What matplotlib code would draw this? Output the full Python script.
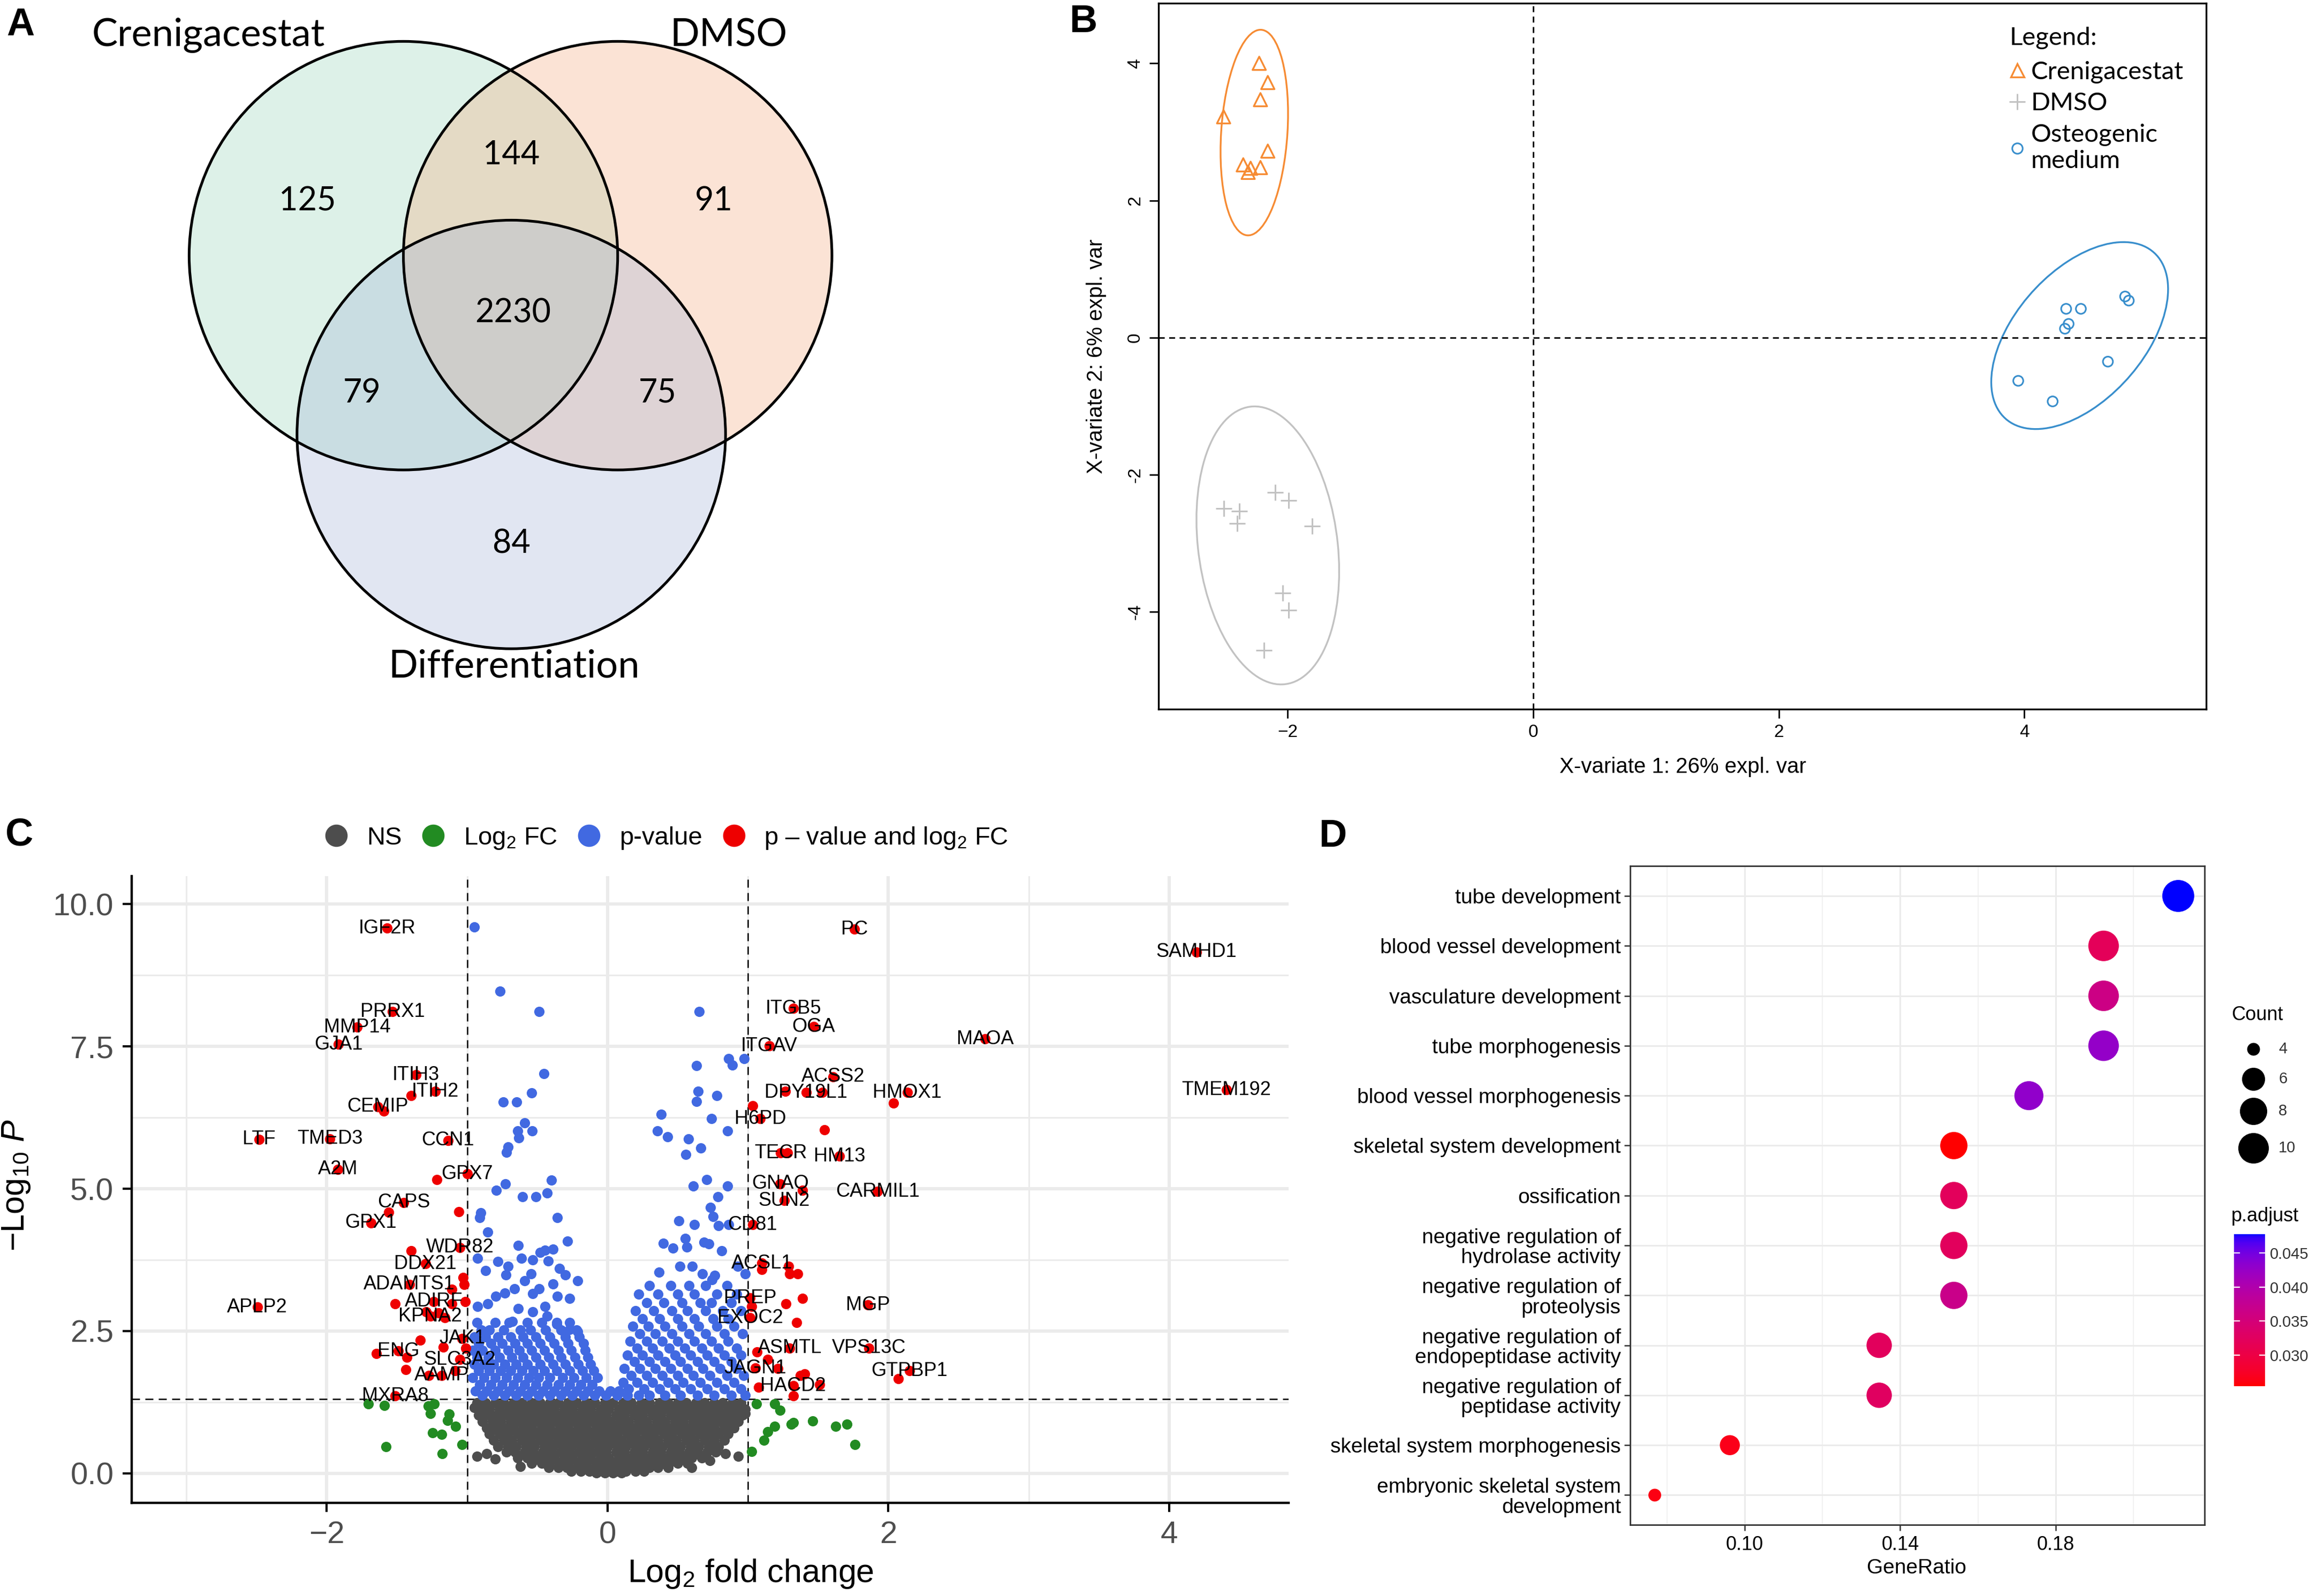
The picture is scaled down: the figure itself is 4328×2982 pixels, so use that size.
#!/usr/bin/env python3
"""Four-panel figure: Venn overlap, PLS-DA sample plot, volcano plot and GO dot plot."""

import matplotlib

matplotlib.use("Agg")

import matplotlib.pyplot as plt
import numpy as np
from matplotlib.colors import LinearSegmentedColormap
from matplotlib.lines import Line2D
from matplotlib.patches import Circle, Ellipse
from matplotlib.ticker import FormatStrFormatter

plt.rcParams["font.family"] = ["Liberation Sans", "DejaVu Sans"]
plt.rcParams["mathtext.fontset"] = "custom"
plt.rcParams["mathtext.rm"] = "Liberation Sans"
plt.rcParams["mathtext.it"] = "Liberation Sans:italic"
plt.rcParams["mathtext.bf"] = "Liberation Sans:bold"
SOFT = ["Lato", "Open Sans", "DejaVu Sans"]

# ---------------- panel A: Venn counts ----------------
VENN_SETS = ["Crenigacestat", "DMSO", "Differentiation"]
VENN_REGIONS = ["100", "010", "001", "110", "101", "011", "111"]
VENN_COUNTS = [125, 91, 84, 144, 79, 75, 2230]

# ---------------- panel B: sample plot ----------------
CREN_X = [-2.23, -2.16, -2.22, -2.52, -2.16, -2.36, -2.30, -2.32, -2.22]
CREN_Y = [4.00, 3.72, 3.47, 3.22, 2.72, 2.52, 2.47, 2.41, 2.48]
DMSO_X = [-2.10, -1.99, -2.52, -2.39, -2.41, -1.80, -2.04, -1.99, -2.19]
DMSO_Y = [-2.26, -2.37, -2.49, -2.53, -2.71, -2.75, -3.72, -3.97, -4.56]
OSTEO_X = [4.82, 4.85, 4.34, 4.46, 4.36, 4.33, 4.68, 3.95, 4.23]
OSTEO_Y = [0.60, 0.54, 0.42, 0.42, 0.20, 0.13, -0.35, -0.63, -0.93]
# confidence ellipses: centre, semi-axes (major, minor), angle in degrees
ELLIPSE_CENTER = [(-2.27, 2.99), (-2.16, -3.03), (4.45, 0.03)]
ELLIPSE_AXES = [(1.50, 0.27), (2.03, 0.57), (1.42, 0.60)]
ELLIPSE_ANGLE = [88.0, 93.3, 72.0]
GROUP_NAMES = ["Crenigacestat", "DMSO", "Osteogenic\nmedium"]

# ---------------- panel C: volcano ----------------
FC_CUTOFF = 1.0
P_CUTOFF = 0.05

LABEL_GENES = [
    "IGF2R", "PRRX1", "MMP14", "GJA1", "ITIH3", "ITIH2", "CEMIP", "LTF", "TMED3",
    "CCN1", "A2M", "GPX7", "CAPS", "GPX1", "WDR82", "DDX21", "ADAMTS1", "ADIRF",
    "KPNA2", "APLP2", "JAK1", "ENG", "SLC3A2", "AAMP", "MXRA8",
    "PC", "SAMHD1", "ITGB5", "OGA", "MAOA", "ITGAV", "ACSS2", "DPY19L1", "HMOX1",
    "TMEM192", "H6PD", "TECR", "HM13", "GNAQ", "CARMIL1", "SUN2", "CD81", "ACSL1",
    "PREP", "MGP", "EXOC2", "ASMTL", "VPS13C", "JAGN1", "GTPBP1", "HACD2",
]
LABEL_X = [
    -1.569, -1.531, -1.782, -1.916, -1.364, -1.227, -1.636, -2.482, -1.977,
    -1.137, -1.922, -1.000, -1.452, -1.686, -1.052, -1.297, -1.411, -1.239,
    -1.262, -2.494, -1.035, -1.490, -1.052, -1.181, -1.513,
    1.757, 4.194, 1.322, 1.467, 2.688, 1.151, 1.605, 1.414, 2.135,
    4.408, 1.089, 1.234, 1.651, 1.230, 1.924, 1.257, 1.033, 1.099,
    1.016, 1.855, 1.016, 1.296, 1.862, 1.053, 2.151, 1.322,
]
LABEL_Y = [
    9.58, 8.11, 7.84, 7.54, 7.00, 6.71, 6.44, 5.87, 5.88,
    5.85, 5.34, 5.26, 4.76, 4.40, 3.97, 3.68, 3.32, 3.02,
    2.76, 2.92, 2.37, 2.15, 2.00, 1.72, 1.36,
    9.56, 9.16, 8.17, 7.85, 7.63, 7.51, 6.97, 6.69, 6.69,
    6.74, 6.23, 5.63, 5.57, 5.09, 4.95, 4.79, 4.37, 3.69,
    3.08, 2.96, 2.73, 2.20, 2.20, 1.85, 1.80, 1.54,
]
RED_X = [
    -1.399, -1.592, -1.216, -1.560, -1.058, -1.399, -1.029, -1.020, -1.107, -1.014,
    -1.513, -1.110, -1.292, -1.204, -1.157, -1.333, -1.169, -1.011, -1.645, -1.429,
    -1.437, -1.274, -1.087,
    1.266, 1.530, 2.036, 1.033, 1.543, 1.280, 1.388, 1.099, 1.289, 1.296, 1.355,
    1.026, 1.270, 1.388, 1.345, 1.066, 1.141, 1.214, 2.072, 1.372, 1.405, 1.076,
    1.510, 1.322,
]
RED_Y = [
    6.64, 6.36, 5.16, 4.59, 4.60, 3.91, 3.44, 3.32, 3.23, 3.02,
    2.98, 2.98, 2.84, 2.82, 2.73, 2.34, 2.22, 2.20, 2.10, 2.04,
    1.82, 1.72, 1.80,
    6.71, 6.69, 6.51, 6.46, 6.04, 5.63, 4.97, 3.58, 3.64, 3.51, 3.51,
    2.93, 2.98, 3.07, 2.65, 2.13, 2.00, 1.84, 1.66, 1.72, 1.75, 1.51,
    1.56, 1.36,
]
GREEN_X = [-1.703, -1.590, -1.578, -1.277, -1.234, -1.262, -1.245, -1.181, -1.178,
           -1.128, -1.140, -1.081, -1.037, 1.059, 1.191, 1.230, 1.141, 1.115, 1.191,
           1.309, 1.322, 1.461, 1.625, 1.704, 1.763, 1.026]
GREEN_Y = [1.22, 1.19, 0.47, 1.18, 1.22, 1.05, 0.71, 0.68, 0.35,
           1.04, 0.93, 0.83, 0.51, 1.22, 1.22, 1.11, 0.73, 0.58, 0.83,
           0.86, 0.89, 0.92, 0.83, 0.86, 0.51, 0.38]

# significant p-value only (blue): scattered upper points
BLUE_X = [
    -0.947, -0.766, -0.489, -0.454, -0.541, -0.742, -0.649, -0.590, -0.640, -0.538,
    -0.634, -0.707, -0.719, -0.398, -0.727, -0.791, -0.605, -0.512, -0.430, -0.902,
    -0.911, -0.356, -0.855, -0.286, -0.924, -0.868, -0.781, -0.708, -0.723, -0.635,
    -0.612, -0.545, -0.533, -0.480, -0.445, -0.387, -0.422, -0.343, -0.299, -0.212,
    -0.387, -0.489, -0.590, -0.664, -0.731, -0.926, -0.854, -0.796, -0.533, -0.358,
    -0.270, -0.445, -0.635, -0.533, -0.430, -0.363, -0.270, -0.212, -0.679,
    0.651, 0.974, 0.862, 0.888, 0.635, 0.645, 0.632, 0.780, 0.382, 0.740,
    0.855, 0.355, 0.428, 0.576, 0.664, 0.556, 0.612, 0.707, 0.855, 0.786,
    0.734, 0.750, 0.507, 0.618, 0.789, 0.862, 0.398, 0.467, 0.553, 0.566,
    0.688, 0.720, 0.813, 0.368, 0.516, 0.605, 0.674, 0.743, 0.763, 0.928, 0.980,
]
BLUE_Y = [
    9.60, 8.47, 8.11, 7.02, 6.68, 6.52, 6.52, 6.16, 6.02, 6.02,
    5.89, 5.73, 5.64, 5.15, 5.09, 4.97, 4.86, 4.86, 4.93, 4.58,
    4.49, 4.49, 4.24, 4.08, 3.78, 3.56, 3.72, 3.64, 3.49, 4.00,
    3.78, 3.51, 3.75, 3.88, 3.92, 3.94, 3.73, 3.60, 3.49, 3.38,
    3.33, 3.24, 3.38, 3.24, 3.17, 2.93, 2.98, 3.11, 3.16, 3.11,
    3.07, 2.93, 2.89, 2.84, 2.76, 2.62, 2.53, 2.49, 2.67,
    8.11, 7.29, 7.29, 7.17, 7.16, 6.71, 6.53, 6.64, 6.31, 6.23,
    6.02, 6.02, 5.91, 5.88, 5.72, 5.60, 5.05, 5.16, 5.05, 4.86,
    4.67, 4.51, 4.44, 4.37, 4.35, 4.37, 4.04, 3.96, 4.13, 3.98,
    4.06, 4.03, 3.91, 3.53, 3.64, 3.64, 3.51, 3.40, 3.48, 3.64, 3.51,
]
# dense blue band, read row by row
BLUE_ROW_Y = [3.30, 3.15, 3.00, 2.86, 2.72, 2.65, 2.58, 2.52, 2.45, 2.40, 2.32, 2.28,
              2.20, 2.16, 2.08, 2.04, 1.96, 1.92, 1.84, 1.80, 1.72, 1.68, 1.60, 1.56,
              1.48, 1.45, 1.37]
BLUE_ROW_X = [
    [0.30, 0.45, 0.58, 0.70, 0.85],
    [0.22, 0.36, 0.50, 0.62, 0.78, 0.92],
    [0.28, 0.40, 0.53, 0.66, 0.74, 0.88],
    [0.20, 0.33, 0.46, 0.57, 0.70, 0.82, 0.95],
    [0.25, 0.37, 0.50, 0.62, 0.75, 0.86],
    [-0.93, -0.80, -0.70, -0.57, -0.47, -0.36, -0.27],
    [0.18, 0.29, 0.41, 0.53, 0.65, 0.78, 0.90],
    [-0.90, -0.84, -0.74, -0.62, -0.55, -0.44, -0.33, -0.22],
    [0.23, 0.34, 0.46, 0.58, 0.70, 0.83, 0.96],
    [-0.95, -0.87, -0.78, -0.69, -0.60, -0.51, -0.41, -0.30, -0.20],
    [0.16, 0.28, 0.39, 0.50, 0.62, 0.74, 0.86],
    [-0.92, -0.83, -0.75, -0.66, -0.57, -0.48, -0.38, -0.28, -0.17],
    [0.21, 0.32, 0.44, 0.55, 0.67, 0.79, 0.92],
    [-0.96, -0.89, -0.80, -0.71, -0.63, -0.54, -0.45, -0.35, -0.26, -0.16],
    [0.14, 0.25, 0.36, 0.48, 0.59, 0.71, 0.83, 0.95],
    [-0.93, -0.85, -0.77, -0.68, -0.60, -0.51, -0.42, -0.33, -0.23, -0.14],
    [0.19, 0.30, 0.41, 0.52, 0.64, 0.76, 0.88],
    [-0.95, -0.88, -0.81, -0.73, -0.65, -0.57, -0.48, -0.39, -0.30, -0.21, -0.12],
    [0.12, 0.23, 0.34, 0.45, 0.57, 0.68, 0.80, 0.92],
    [-0.92, -0.84, -0.76, -0.69, -0.61, -0.53, -0.45, -0.36, -0.27, -0.18, -0.10],
    [0.17, 0.28, 0.39, 0.50, 0.61, 0.73, 0.85, 0.97],
    [-0.96, -0.88, -0.80, -0.72, -0.64, -0.56, -0.49, -0.41, -0.32, -0.24, -0.15, -0.07],
    [0.11, 0.21, 0.32, 0.43, 0.54, 0.66, 0.78, 0.90],
    [-0.91, -0.83, -0.75, -0.67, -0.59, -0.51, -0.43, -0.35, -0.27, -0.19, -0.11],
    [0.15, 0.26, 0.37, 0.48, 0.59, 0.71, 0.83, 0.95],
    [-0.94, -0.86, -0.78, -0.70, -0.62, -0.54, -0.46, -0.38, -0.30, -0.22, -0.14, -0.06,
     0.02, 0.08],
    [-0.89, -0.81, -0.73, -0.65, -0.57, -0.49, -0.41, -0.33, -0.25, -0.17, -0.09, -0.01,
     0.07, 0.14, 0.22, 0.30, 0.41, 0.52, 0.64, 0.76, 0.88, 0.98],
]
# non-significant cloud, read row by row
NS_ROW_Y = [1.24, 1.13, 1.02, 0.91, 0.80, 0.69, 0.58, 0.47, 0.37, 0.27, 0.18, 0.10, 0.04, 0.01]
NS_ROW_X = [
    [-0.93, -0.87, -0.80, -0.74, -0.67, -0.61, -0.54, -0.48, -0.41, -0.35, -0.28, -0.22,
     -0.15, -0.09, -0.02, 0.04, 0.11, 0.17, 0.24, 0.30, 0.37, 0.43, 0.50, 0.56, 0.63,
     0.69, 0.76, 0.82, 0.89, 0.95],
    [-0.90, -0.84, -0.77, -0.70, -0.64, -0.57, -0.51, -0.44, -0.38, -0.31, -0.25, -0.18,
     -0.12, -0.05, 0.01, 0.08, 0.14, 0.21, 0.27, 0.34, 0.40, 0.47, 0.53, 0.60, 0.66,
     0.73, 0.79, 0.86, 0.92, 0.98],
    [-0.92, -0.85, -0.79, -0.72, -0.66, -0.59, -0.53, -0.46, -0.40, -0.33, -0.27, -0.20,
     -0.14, -0.07, -0.01, 0.06, 0.12, 0.19, 0.25, 0.32, 0.38, 0.45, 0.51, 0.58, 0.64,
     0.71, 0.77, 0.84, 0.90, 0.96],
    [-0.89, -0.82, -0.76, -0.69, -0.63, -0.56, -0.50, -0.43, -0.37, -0.30, -0.24, -0.17,
     -0.11, -0.04, 0.02, 0.09, 0.15, 0.22, 0.28, 0.35, 0.41, 0.48, 0.54, 0.61, 0.67,
     0.74, 0.80, 0.87, 0.93],
    [-0.86, -0.80, -0.73, -0.67, -0.60, -0.54, -0.47, -0.41, -0.34, -0.28, -0.21, -0.15,
     -0.08, -0.02, 0.05, 0.11, 0.18, 0.24, 0.31, 0.37, 0.44, 0.50, 0.57, 0.63, 0.70,
     0.76, 0.83, 0.90],
    [-0.84, -0.77, -0.71, -0.64, -0.58, -0.51, -0.45, -0.38, -0.32, -0.25, -0.19, -0.12,
     -0.06, 0.01, 0.07, 0.14, 0.20, 0.27, 0.33, 0.40, 0.46, 0.53, 0.59, 0.66, 0.72,
     0.79, 0.86],
    [-0.81, -0.74, -0.68, -0.61, -0.55, -0.48, -0.42, -0.35, -0.29, -0.22, -0.16, -0.09,
     -0.03, 0.04, 0.10, 0.17, 0.23, 0.30, 0.36, 0.43, 0.49, 0.56, 0.62, 0.69, 0.76, 0.83],
    [-0.78, -0.71, -0.65, -0.58, -0.52, -0.45, -0.39, -0.32, -0.26, -0.19, -0.13, -0.06,
     0.00, 0.07, 0.13, 0.20, 0.26, 0.33, 0.39, 0.46, 0.52, 0.59, 0.65, 0.72, 0.79],
    [-0.72, -0.66, -0.59, -0.53, -0.46, -0.40, -0.33, -0.27, -0.20, -0.14, -0.07, -0.01,
     0.06, 0.12, 0.19, 0.25, 0.32, 0.38, 0.45, 0.51, 0.58, 0.64, 0.71, 0.77],
    [-0.64, -0.57, -0.51, -0.44, -0.38, -0.31, -0.25, -0.18, -0.12, -0.05, 0.01, 0.08,
     0.14, 0.21, 0.27, 0.34, 0.40, 0.47, 0.53, 0.60, 0.67],
    [-0.54, -0.47, -0.41, -0.34, -0.28, -0.21, -0.15, -0.08, -0.02, 0.05, 0.11, 0.18,
     0.24, 0.31, 0.37, 0.44, 0.50, 0.57],
    [-0.42, -0.35, -0.29, -0.22, -0.16, -0.09, -0.03, 0.04, 0.10, 0.17, 0.23, 0.30, 0.36, 0.43],
    [-0.26, -0.19, -0.13, -0.06, 0.00, 0.07, 0.13, 0.20, 0.26],
    [-0.08, -0.02, 0.04, 0.10],
]
NS_EXTRA_X = [-0.93, -0.86, -0.80, -0.62, 0.84, 0.93, 0.73, 0.60, 0.98, -0.95]
NS_EXTRA_Y = [0.30, 0.35, 0.25, 0.12, 0.35, 0.30, 0.22, 0.10, 1.05, 1.15]

# ---------------- panel D: GO enrichment ----------------
GO_TERMS = [
    "tube development",
    "blood vessel development",
    "vasculature development",
    "tube morphogenesis",
    "blood vessel morphogenesis",
    "skeletal system development",
    "ossification",
    "negative regulation of\nhydrolase activity",
    "negative regulation of\nproteolysis",
    "negative regulation of\nendopeptidase activity",
    "negative regulation of\npeptidase activity",
    "skeletal system morphogenesis",
    "embryonic skeletal system\ndevelopment",
]
GENE_RATIO = [0.2115, 0.1923, 0.1923, 0.1923, 0.1731, 0.1538, 0.1538, 0.1538, 0.1538,
              0.1346, 0.1346, 0.0962, 0.0769]
GO_COUNT = [11, 10, 10, 10, 9, 8, 8, 8, 8, 7, 7, 5, 4]
P_ADJUST = [0.0478, 0.0319, 0.0362, 0.0427, 0.0429, 0.0254, 0.0321, 0.0323, 0.0366,
            0.0323, 0.0326, 0.0265, 0.0261]
COUNT_BREAKS = [4, 6, 8, 10]

# ---------------- layout (reference grid of 1568 x 1080) ----------------
GW, GH = 1568.0, 1080.0


def box(x0, y0, x1, y1):
    return [x0 / GW, 1 - y1 / GH, (x1 - x0) / GW, (y1 - y0) / GH]


def lab_gradient(c_low, c_high, n=256):
    """Interpolate two sRGB colours in CIE Lab, like ggplot's gradient scale."""
    m = np.array([[0.4124, 0.3576, 0.1805], [0.2126, 0.7152, 0.0722], [0.0193, 0.1192, 0.9505]])
    white = np.array([0.95047, 1.0, 1.08883])
    d = 6 / 29

    def to_lab(rgb):
        c = np.asarray(rgb, float)
        lin = np.where(c <= 0.04045, c / 12.92, ((c + 0.055) / 1.055) ** 2.4)
        t = (m @ lin) / white
        f = np.where(t > d ** 3, np.cbrt(t), t / (3 * d * d) + 4 / 29)
        return np.array([116 * f[1] - 16, 500 * (f[0] - f[1]), 200 * (f[1] - f[2])])

    def to_rgb(lab):
        fy = (lab[0] + 16) / 116
        f = np.array([fy + lab[1] / 500, fy, fy - lab[2] / 200])
        t = np.where(f > d, f ** 3, 3 * d * d * (f - 4 / 29))
        lin = np.clip(np.linalg.inv(m) @ (t * white), 0, 1)
        c = np.where(lin <= 0.0031308, 12.92 * lin, 1.055 * lin ** (1 / 2.4) - 0.055)
        return np.clip(c, 0, 1)

    a, b = to_lab(c_low), to_lab(c_high)
    cols = [to_rgb(a + (b - a) * k / (n - 1)) for k in range(n)]
    return LinearSegmentedColormap.from_list("lab_rb", cols)


fig = plt.figure(figsize=(21.64, 14.91), dpi=200)

# ======================= A =======================
ax_a = fig.add_axes(box(0, 0, 740, 540))
ax_a.set_xlim(0, 740)
ax_a.set_ylim(540, 0)
ax_a.axis("off")
venn_centers = [(273, 173), (418, 173), (346, 294)]
venn_r = 145
venn_fill = ["#8FD1B3", "#F5A576", "#9EAFD7"]
set_label_pos = [(141, 24), (493, 24), (348, 451)]
region_pos = {"100": (208, 136), "010": (483, 136), "001": (346, 368), "110": (346, 105),
              "101": (245, 266), "011": (445, 266), "111": (347, 212)}
for c, col in zip(venn_centers, venn_fill):
    ax_a.add_patch(Circle(c, venn_r, facecolor=col, edgecolor="none", alpha=0.3))
for c in venn_centers:
    ax_a.add_patch(Circle(c, venn_r, fill=False, edgecolor="black", linewidth=1.8))
for name, pos in zip(VENN_SETS, set_label_pos):
    ax_a.text(pos[0], pos[1], name, ha="center", va="center", fontsize=26, family=SOFT)
for key, n in zip(VENN_REGIONS, VENN_COUNTS):
    x, y = region_pos[key]
    ax_a.text(x, y, str(n), ha="center", va="center", fontsize=22, family=SOFT)

# ======================= B =======================
ax_b = fig.add_axes(box(784, 2, 1493, 480))
ax_b.set_xlim(-3.05, 5.48)
ax_b.set_ylim(-5.42, 4.88)
group_cols = ["#F68B33", "#C2C2C2", "#388ECC"]
ax_b.axvline(0, color="black", lw=1.0, ls=(0, (4, 3)))
ax_b.axhline(0, color="black", lw=1.0, ls=(0, (4, 3)))
for cen, (a, b), ang, col in zip(ELLIPSE_CENTER, ELLIPSE_AXES, ELLIPSE_ANGLE, group_cols):
    ax_b.add_patch(Ellipse(cen, 2 * a, 2 * b, angle=ang, fill=False, edgecolor=col, lw=1.2))
ax_b.scatter(CREN_X, CREN_Y, marker="^", s=80, facecolors="none", edgecolors=group_cols[0], linewidths=1.2)
ax_b.scatter(DMSO_X, DMSO_Y, marker="+", s=110, color=group_cols[1], linewidths=1.1)
ax_b.scatter(OSTEO_X, OSTEO_Y, marker="o", s=45, facecolors="none", edgecolors=group_cols[2], linewidths=1.1)
ax_b.set_xticks([-2, 0, 2, 4])
ax_b.set_yticks([-4, -2, 0, 2, 4])
ax_b.set_yticklabels(["-4", "-2", "0", "2", "4"], rotation=90, va="center")
ax_b.tick_params(length=6, width=1.0, labelsize=12, pad=4)
for sp in ax_b.spines.values():
    sp.set_linewidth(1.2)
fig.text(1139 / GW, 1 - 519 / GH, "X-variate 1: 26% expl. var", ha="center", va="center", fontsize=14.5)
fig.text(742 / GW, 1 - 241 / GH, "X-variate 2: 6% expl. var", ha="center", va="center",
         rotation=90, fontsize=14.5)
b_handles = [
    Line2D([], [], ls="", marker="^", markersize=9, markerfacecolor="none",
           markeredgecolor=group_cols[0], markeredgewidth=1.2),
    Line2D([], [], ls="", marker="+", markersize=11, color=group_cols[1], markeredgewidth=1.1),
    Line2D([], [], ls="", marker="o", markersize=7, markerfacecolor="none",
           markeredgecolor=group_cols[2], markeredgewidth=1.1),
]
leg_b = ax_b.legend(b_handles, GROUP_NAMES, title="Legend:", loc="upper left",
                    bbox_to_anchor=((1360 - 784) / 709, 1 - 16 / 478), frameon=False,
                    prop={"family": SOFT, "size": 17}, handlelength=0.6, handletextpad=0.25,
                    labelspacing=0.35, borderpad=0, borderaxespad=0, alignment="left")
leg_b.get_title().set_fontfamily(SOFT)
leg_b.get_title().set_fontsize(17)
leg_b._legend_box.sep = 8

# ======================= C =======================
ax_c = fig.add_axes(box(89, 593, 872, 1017))
ax_c.set_xlim(-3.39, 4.85)
ax_c.set_ylim(-0.52, 10.49)
ax_c.set_xticks([-2, 0, 2, 4])
ax_c.set_xticks([-3, -1, 1, 3], minor=True)
ax_c.set_yticks([0, 2.5, 5, 7.5, 10])
ax_c.set_yticks([1.25, 3.75, 6.25, 8.75], minor=True)
ax_c.yaxis.set_major_formatter(FormatStrFormatter("%.1f"))
ax_c.grid(which="major", color="#EBEBEB", lw=2.2)
ax_c.grid(which="minor", color="#EBEBEB", lw=1.1)
ax_c.set_axisbelow(True)
for side in ["top", "right"]:
    ax_c.spines[side].set_visible(False)
for side in ["left", "bottom"]:
    ax_c.spines[side].set_linewidth(1.6)
ax_c.tick_params(which="major", length=6, width=1.5, labelsize=21, labelcolor="#4D4D4D", pad=6)
ax_c.tick_params(which="minor", length=0)

ns_x = [x for row in NS_ROW_X for x in row] + NS_EXTRA_X
ns_y = [y for y, row in zip(NS_ROW_Y, NS_ROW_X) for _ in row] + NS_EXTRA_Y
blue_x = [x for row in BLUE_ROW_X for x in row] + BLUE_X
blue_y = [y for y, row in zip(BLUE_ROW_Y, BLUE_ROW_X) for _ in row] + BLUE_Y
volcano_cols = ["#4D4D4D", "#228B22", "#4169E1", "#EE0000"]
pt = dict(s=48, linewidths=0, zorder=2)
ax_c.scatter(ns_x, ns_y, color=volcano_cols[0], **pt)
ax_c.scatter(GREEN_X, GREEN_Y, color=volcano_cols[1], **pt)
ax_c.scatter(blue_x, blue_y, color=volcano_cols[2], **pt)
ax_c.scatter(RED_X, RED_Y, color=volcano_cols[3], **pt)
ax_c.scatter(LABEL_X, LABEL_Y, color=volcano_cols[3], **pt)
for gene, x, y in zip(LABEL_GENES, LABEL_X, LABEL_Y):
    ax_c.text(x, y, gene, ha="center", va="center", fontsize=13, zorder=3)

dash = dict(color="black", lw=0.9, ls=(0, (6, 4)), zorder=1.5)
ax_c.axvline(-FC_CUTOFF, **dash)
ax_c.axvline(FC_CUTOFF, **dash)
ax_c.axhline(-np.log10(P_CUTOFF), **dash)

c_handles = [Line2D([], [], ls="", marker="o", markersize=14, color=c) for c in volcano_cols]
c_labels = ["NS", "Log$_{2}$ FC", "p-value", "p \u2013 value and log$_{2}$ FC"]
ax_c.legend(c_handles, c_labels, ncol=4, loc="center", bbox_to_anchor=(0.462, 1.061),
            frameon=False, fontsize=17, handletextpad=0.7, columnspacing=0.75,
            handlelength=1.0, borderaxespad=0)
fig.text(508 / GW, 1 - 1065 / GH, "Log$_{2}$ fold change", ha="center", va="center", fontsize=22)
fig.text(11 / GW, 1 - 802 / GH, r"$-$Log$_{10}$ $P$", ha="center", va="center",
         rotation=90, fontsize=22)

# ======================= D =======================
ax_d = fig.add_axes(box(1103, 586, 1492, 1032))
cmap = lab_gradient([1, 0, 0], [0, 0, 1])
ypos = np.arange(len(GO_TERMS), 0, -1)
cnt = np.array(GO_COUNT, float)
d_min_pt, d_max_pt = 8.6, 21.5


def count_to_area(c):
    frac = (np.asarray(c, float) - cnt.min()) / (cnt.max() - cnt.min())
    return (d_min_pt + (d_max_pt - d_min_pt) * np.sqrt(frac)) ** 2


sc = ax_d.scatter(GENE_RATIO, ypos, s=count_to_area(GO_COUNT), c=P_ADJUST, cmap=cmap,
                  vmin=min(P_ADJUST), vmax=max(P_ADJUST), linewidths=0, zorder=3)
ax_d.set_xlim(0.0705, 0.2183)
ax_d.set_ylim(0.4, len(GO_TERMS) + 0.6)
ax_d.set_xticks([0.10, 0.14, 0.18])
ax_d.set_xticks([0.08, 0.12, 0.16, 0.20], minor=True)
ax_d.xaxis.set_major_formatter(FormatStrFormatter("%.2f"))
ax_d.set_yticks(ypos)
ax_d.set_yticklabels(GO_TERMS, fontsize=14, linespacing=1.05)
ax_d.grid(which="major", color="#EBEBEB", lw=1.1)
ax_d.grid(which="minor", axis="x", color="#F0F0F0", lw=0.6)
ax_d.set_axisbelow(True)
for sp in ax_d.spines.values():
    sp.set_color("#333333")
    sp.set_linewidth(1.0)
ax_d.tick_params(axis="y", length=4, width=0.9, color="#333333", pad=2)
ax_d.tick_params(axis="x", length=4, width=0.9, color="#333333", labelsize=13, pad=3)
ax_d.tick_params(which="minor", length=0)
fig.text(1297 / GW, 1 - 1061 / GH, "GeneRatio", ha="center", va="center", fontsize=14)

ax_leg = fig.add_axes(box(1500, 660, 1568, 950))
ax_leg.set_xlim(1500, 1568)
ax_leg.set_ylim(950, 660)
ax_leg.axis("off")
ax_leg.text(1510, 687, "Count", ha="left", va="center", fontsize=13)
for k, yy in zip(COUNT_BREAKS, [710, 730, 752, 777]):
    ax_leg.scatter([1525], [yy], s=count_to_area(k), color="black", linewidths=0)
    ax_leg.text(1542, yy, str(k), ha="left", va="center", fontsize=10.5, color="#333333")
ax_leg.text(1510, 823, "p.adjust", ha="left", va="center", fontsize=13)

cax = fig.add_axes(box(1512, 835, 1533, 938))
cb = fig.colorbar(sc, cax=cax)
cb.outline.set_visible(False)
cb.set_ticks([0.030, 0.035, 0.040, 0.045])
cb.ax.yaxis.set_major_formatter(FormatStrFormatter("%.3f"))
cax.tick_params(direction="in", length=4, width=0.8, color="white", labelsize=10.5,
                labelcolor="#333333", left=True, right=True, labelleft=False, labelright=True, pad=3)

# ======================= panel letters =======================
for letter, (x, y) in zip("ABCD", [(14, 17), (733, 15), (13, 565), (902, 566)]):
    fig.text(x / GW, 1 - y / GH, letter, ha="center", va="center", fontsize=26, fontweight="bold")

fig.savefig("out.png", dpi=200)
plt.close(fig)
